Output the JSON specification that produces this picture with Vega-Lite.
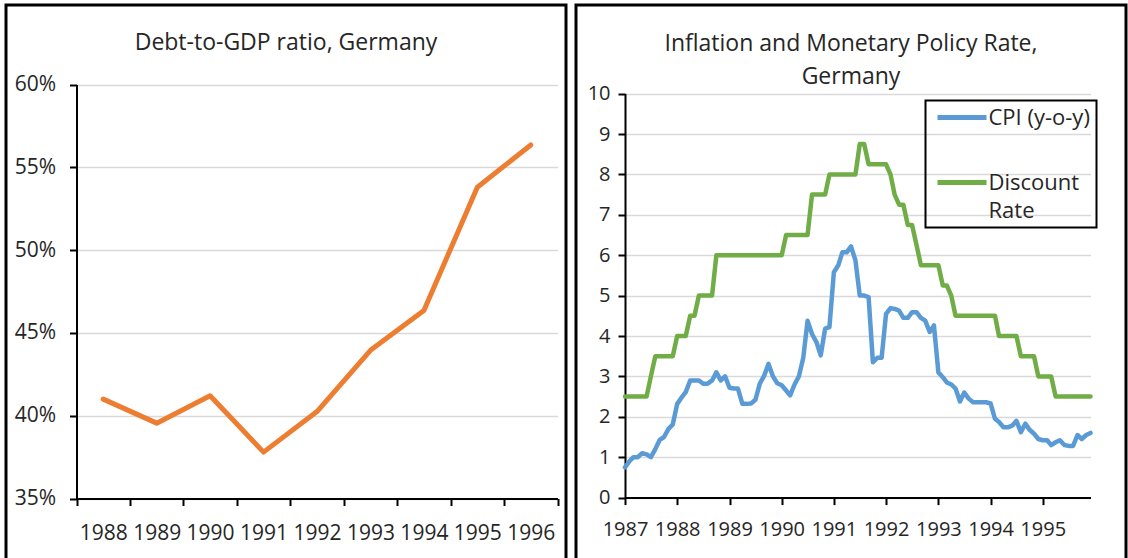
{
  "$schema": "https://vega.github.io/schema/vega-lite/v6.json",
  "padding": {"left": 4, "top": 3, "right": 0, "bottom": 0},
  "autosize": {"type": "pad"},
  "spacing": 6,
  "config": {
    "font": "Open Sans",
    "view": {"stroke": "#000000", "strokeWidth": 3},
    "axis": {
      "labelFont": "Open Sans",
      "labelFontSize": 20,
      "labelColor": "#262626",
      "domainColor": "#000000",
      "domainWidth": 2,
      "tickColor": "#000000",
      "tickWidth": 2,
      "tickSize": 7,
      "gridColor": "#D9D9D9",
      "gridWidth": 1.6,
      "title": null
    },
    "legend": {"strokeColor": "#000000", "strokeWidth": 2},
    "title": {"font": "Open Sans", "fontSize": 23, "fontWeight": "normal", "color": "#262626", "anchor": "middle", "frame": "group"}
  },
  "hconcat": [
    {
      "width": 560,
      "height": 556,
      "title": {"text": "Debt-to-GDP ratio, Germany", "offset": -49.5},
      "data": {"values": [
        {"year": "1988", "debt": 0.410},
        {"year": "1989", "debt": 0.3955},
        {"year": "1990", "debt": 0.412},
        {"year": "1991", "debt": 0.378},
        {"year": "1992", "debt": 0.4025},
        {"year": "1993", "debt": 0.4395},
        {"year": "1994", "debt": 0.4635},
        {"year": "1995", "debt": 0.538},
        {"year": "1996", "debt": 0.5635}
      ]},
      "mark": {"type": "line", "color": "#ED7D31", "strokeWidth": 5, "strokeJoin": "round", "strokeCap": "round"},
      "encoding": {
        "x": {"field": "year", "type": "ordinal", "sort": null,
          "scale": {"type": "band", "range": [70.5, 551.5], "paddingInner": 0, "paddingOuter": 0},
          "axis": {"offset": -62.5, "tickBand": "extent", "labelPadding": 17, "labelFontSize": 21, "labelAngle": 0, "labelOverlap": false, "grid": false}},
        "y": {"field": "debt", "type": "quantitative",
          "scale": {"domain": [0.35, 0.6], "range": [493.5, 79.5], "nice": false, "zero": false},
          "axis": {"offset": -70.5, "values": [0.35, 0.4, 0.45, 0.5, 0.55, 0.6], "format": ".0%", "labelPadding": 14, "labelFontSize": 21, "grid": true}}
      }
    },
    {
      "width": 550,
      "height": 556,
      "title": {"text": ["Inflation and Monetary Policy Rate,", "Germany"], "lineHeight": 33, "offset": -83.5},
      "data": {"values": [
        {"date": "1987-01-01", "cpi": 0.75, "rate": 2.5},
        {"date": "1987-02-01", "cpi": 0.9, "rate": 2.5},
        {"date": "1987-03-01", "cpi": 1.0, "rate": 2.5},
        {"date": "1987-04-01", "cpi": 1.0, "rate": 2.5},
        {"date": "1987-05-01", "cpi": 1.1, "rate": 2.5},
        {"date": "1987-06-01", "cpi": 1.07, "rate": 2.5},
        {"date": "1987-07-01", "cpi": 1.0, "rate": 3.0},
        {"date": "1987-08-01", "cpi": 1.2, "rate": 3.5},
        {"date": "1987-09-01", "cpi": 1.43, "rate": 3.5},
        {"date": "1987-10-01", "cpi": 1.5, "rate": 3.5},
        {"date": "1987-11-01", "cpi": 1.7, "rate": 3.5},
        {"date": "1987-12-01", "cpi": 1.81, "rate": 3.5},
        {"date": "1988-01-01", "cpi": 2.32, "rate": 4.0},
        {"date": "1988-02-01", "cpi": 2.48, "rate": 4.0},
        {"date": "1988-03-01", "cpi": 2.61, "rate": 4.0},
        {"date": "1988-04-01", "cpi": 2.9, "rate": 4.5},
        {"date": "1988-05-01", "cpi": 2.9, "rate": 4.5},
        {"date": "1988-06-01", "cpi": 2.9, "rate": 5.0},
        {"date": "1988-07-01", "cpi": 2.82, "rate": 5.0},
        {"date": "1988-08-01", "cpi": 2.82, "rate": 5.0},
        {"date": "1988-09-01", "cpi": 2.9, "rate": 5.0},
        {"date": "1988-10-01", "cpi": 3.1, "rate": 6.0},
        {"date": "1988-11-01", "cpi": 2.9, "rate": 6.0},
        {"date": "1988-12-01", "cpi": 3.0, "rate": 6.0},
        {"date": "1989-01-01", "cpi": 2.72, "rate": 6.0},
        {"date": "1989-02-01", "cpi": 2.7, "rate": 6.0},
        {"date": "1989-03-01", "cpi": 2.7, "rate": 6.0},
        {"date": "1989-04-01", "cpi": 2.32, "rate": 6.0},
        {"date": "1989-05-01", "cpi": 2.32, "rate": 6.0},
        {"date": "1989-06-01", "cpi": 2.33, "rate": 6.0},
        {"date": "1989-07-01", "cpi": 2.42, "rate": 6.0},
        {"date": "1989-08-01", "cpi": 2.82, "rate": 6.0},
        {"date": "1989-09-01", "cpi": 3.02, "rate": 6.0},
        {"date": "1989-10-01", "cpi": 3.31, "rate": 6.0},
        {"date": "1989-11-01", "cpi": 3.0, "rate": 6.0},
        {"date": "1989-12-01", "cpi": 2.83, "rate": 6.0},
        {"date": "1990-01-01", "cpi": 2.78, "rate": 6.0},
        {"date": "1990-02-01", "cpi": 2.65, "rate": 6.5},
        {"date": "1990-03-01", "cpi": 2.53, "rate": 6.5},
        {"date": "1990-04-01", "cpi": 2.8, "rate": 6.5},
        {"date": "1990-05-01", "cpi": 3.0, "rate": 6.5},
        {"date": "1990-06-01", "cpi": 3.46, "rate": 6.5},
        {"date": "1990-07-01", "cpi": 4.38, "rate": 6.5},
        {"date": "1990-08-01", "cpi": 4.05, "rate": 7.5},
        {"date": "1990-09-01", "cpi": 3.85, "rate": 7.5},
        {"date": "1990-10-01", "cpi": 3.52, "rate": 7.5},
        {"date": "1990-11-01", "cpi": 4.18, "rate": 7.5},
        {"date": "1990-12-01", "cpi": 4.22, "rate": 8.0},
        {"date": "1991-01-01", "cpi": 5.58, "rate": 8.0},
        {"date": "1991-02-01", "cpi": 5.75, "rate": 8.0},
        {"date": "1991-03-01", "cpi": 6.07, "rate": 8.0},
        {"date": "1991-04-01", "cpi": 6.07, "rate": 8.0},
        {"date": "1991-05-01", "cpi": 6.22, "rate": 8.0},
        {"date": "1991-06-01", "cpi": 5.87, "rate": 8.0},
        {"date": "1991-07-01", "cpi": 5.0, "rate": 8.75},
        {"date": "1991-08-01", "cpi": 5.0, "rate": 8.75},
        {"date": "1991-09-01", "cpi": 4.96, "rate": 8.25},
        {"date": "1991-10-01", "cpi": 3.35, "rate": 8.25},
        {"date": "1991-11-01", "cpi": 3.46, "rate": 8.25},
        {"date": "1991-12-01", "cpi": 3.46, "rate": 8.25},
        {"date": "1992-01-01", "cpi": 4.55, "rate": 8.25},
        {"date": "1992-02-01", "cpi": 4.69, "rate": 8.0},
        {"date": "1992-03-01", "cpi": 4.67, "rate": 7.5},
        {"date": "1992-04-01", "cpi": 4.63, "rate": 7.25},
        {"date": "1992-05-01", "cpi": 4.45, "rate": 7.25},
        {"date": "1992-06-01", "cpi": 4.45, "rate": 6.75},
        {"date": "1992-07-01", "cpi": 4.59, "rate": 6.75},
        {"date": "1992-08-01", "cpi": 4.59, "rate": 6.25},
        {"date": "1992-09-01", "cpi": 4.45, "rate": 5.75},
        {"date": "1992-10-01", "cpi": 4.38, "rate": 5.75},
        {"date": "1992-11-01", "cpi": 4.1, "rate": 5.75},
        {"date": "1992-12-01", "cpi": 4.26, "rate": 5.75},
        {"date": "1993-01-01", "cpi": 3.1, "rate": 5.75},
        {"date": "1993-02-01", "cpi": 2.98, "rate": 5.25},
        {"date": "1993-03-01", "cpi": 2.85, "rate": 5.25},
        {"date": "1993-04-01", "cpi": 2.8, "rate": 5.0},
        {"date": "1993-05-01", "cpi": 2.7, "rate": 4.5},
        {"date": "1993-06-01", "cpi": 2.38, "rate": 4.5},
        {"date": "1993-07-01", "cpi": 2.6, "rate": 4.5},
        {"date": "1993-08-01", "cpi": 2.45, "rate": 4.5},
        {"date": "1993-09-01", "cpi": 2.36, "rate": 4.5},
        {"date": "1993-10-01", "cpi": 2.36, "rate": 4.5},
        {"date": "1993-11-01", "cpi": 2.36, "rate": 4.5},
        {"date": "1993-12-01", "cpi": 2.36, "rate": 4.5},
        {"date": "1994-01-01", "cpi": 2.33, "rate": 4.5},
        {"date": "1994-02-01", "cpi": 1.95, "rate": 4.5},
        {"date": "1994-03-01", "cpi": 1.87, "rate": 4.0},
        {"date": "1994-04-01", "cpi": 1.74, "rate": 4.0},
        {"date": "1994-05-01", "cpi": 1.74, "rate": 4.0},
        {"date": "1994-06-01", "cpi": 1.78, "rate": 4.0},
        {"date": "1994-07-01", "cpi": 1.9, "rate": 4.0},
        {"date": "1994-08-01", "cpi": 1.62, "rate": 3.5},
        {"date": "1994-09-01", "cpi": 1.83, "rate": 3.5},
        {"date": "1994-10-01", "cpi": 1.68, "rate": 3.5},
        {"date": "1994-11-01", "cpi": 1.58, "rate": 3.5},
        {"date": "1994-12-01", "cpi": 1.45, "rate": 3.0},
        {"date": "1995-01-01", "cpi": 1.42, "rate": 3.0},
        {"date": "1995-02-01", "cpi": 1.42, "rate": 3.0},
        {"date": "1995-03-01", "cpi": 1.3, "rate": 3.0},
        {"date": "1995-04-01", "cpi": 1.37, "rate": 2.5},
        {"date": "1995-05-01", "cpi": 1.42, "rate": 2.5},
        {"date": "1995-06-01", "cpi": 1.3, "rate": 2.5},
        {"date": "1995-07-01", "cpi": 1.28, "rate": 2.5},
        {"date": "1995-08-01", "cpi": 1.28, "rate": 2.5},
        {"date": "1995-09-01", "cpi": 1.55, "rate": 2.5},
        {"date": "1995-10-01", "cpi": 1.45, "rate": 2.5},
        {"date": "1995-11-01", "cpi": 1.55, "rate": 2.5},
        {"date": "1995-12-01", "cpi": 1.6, "rate": 2.5}
      ]},
      "transform": [{"fold": ["cpi", "rate"], "as": ["series", "value"]}],
      "mark": {"type": "line", "strokeWidth": 4.5, "strokeJoin": "round", "strokeCap": "round"},
      "encoding": {
        "x": {"field": "date", "type": "temporal",
          "scale": {"type": "utc", "domain": [{"year": 1987, "month": 1, "date": 1, "utc": true}, {"year": 1995, "month": 12, "date": 1, "utc": true}], "range": [49, 514.5], "nice": false},
          "axis": {"offset": -63.4, "format": "%Y", "tickCount": {"interval": "year", "step": 1}, "grid": false, "labelPadding": 15, "labelOverlap": false, "labelFlush": false}},
        "y": {"field": "value", "type": "quantitative",
          "scale": {"domain": [0, 10], "range": [492.6, 88.6], "nice": false},
          "axis": {"offset": -49, "values": [0, 1, 2, 3, 4, 5, 6, 7, 8, 9, 10], "labelPadding": 8, "grid": true}},
        "color": {"field": "series", "type": "nominal",
          "scale": {"domain": ["cpi", "rate"], "range": ["#5B9BD5", "#70AD47"]},
          "legend": {"orient": "none", "legendX": 919.5, "legendY": 95.5, "title": null,
            "padding": 6,
            "symbolType": "M-0.8333,0H7.3333", "symbolStrokeWidth": 5, "symbolSize": 144,
            "labelFont": "Open Sans", "labelFontSize": 22, "labelColor": "#262626", "labelOffset": 35,
            "rowPadding": 43,
            "labelExpr": "datum.label == 'cpi' ? 'CPI (y-o-y)' : ['Discount', 'Rate']",
            "encoding": {"labels": {"lineHeight": {"value": 28}}}}}
      }
    }
  ]
}
